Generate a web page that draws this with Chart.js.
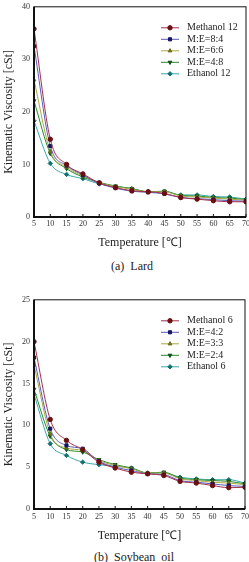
<!DOCTYPE html>
<html>
<head>
<meta charset="utf-8">
<script src="https://cdn.jsdelivr.net/npm/chart.js@4.4.0/dist/chart.umd.min.js"></script>
<style>
  html, body { margin: 0; padding: 0; background: #fff; overflow: hidden; width: 249px; height: 562px; }
  .wrap { position: absolute; left: 0; }
  .cap { position: absolute; font-family: "Liberation Serif", serif; font-size: 12px; color: #222; white-space: nowrap; }
</style>
</head>
<body>
<div class="wrap" style="top:-2px; width:252px; height:252px;"><canvas id="lardChart"></canvas></div>
<div class="cap" style="left:111px; top:259px;">(a)&nbsp; Lard</div>
<div class="wrap" style="top:291px; width:252px; height:252px;"><canvas id="soyChart"></canvas></div>
<div class="cap" style="left:94px; top:550px;">(b)&nbsp; Soybean&nbsp; oil</div>
<script>
// temperature points (deg C)
const temps = [5, 10, 15, 20, 25, 30, 35, 40, 45, 50, 55, 60, 65, 70];

// (a) Lard
const lardLabels = ['Methanol 12', 'M:E=8:4', 'M:E=6:6', 'M:E=4:8', 'Ethanol 12'];
const lardMethanol = [35.8, 14.8, 10.0, 8.2, 6.5, 5.6, 5.0, 4.8, 4.5, 3.7, 3.4, 3.1, 2.9, 2.9];
const lardME84 = [32.5, 13.5, 9.8, 8.0, 6.4, 5.5, 4.9, 4.7, 4.4, 3.7, 3.5, 3.3, 3.1, 3.0];
const lardME66 = [26.1, 12.5, 9.5, 7.8, 6.5, 5.8, 5.3, 4.8, 4.8, 4.0, 3.8, 3.6, 3.4, 3.2];
const lardME48 = [22.1, 12.1, 9.2, 7.6, 6.6, 5.9, 5.4, 4.8, 4.9, 4.1, 4.0, 3.7, 3.6, 3.3];
const lardEthanol = [18.3, 10.2, 8.1, 7.3, 6.3, 5.8, 5.4, 4.8, 4.9, 4.2, 4.2, 3.9, 3.8, 3.4];
const lardTicks = [0, 10, 20, 30, 40];

// (b) Soybean oil
const soyLabels = ['Methanol 6', 'M:E=4:2', 'M:E=3:3', 'M:E=2:4', 'Ethanol 6'];
const soyMethanol = [20.0, 10.7, 8.2, 7.1, 5.6, 4.9, 4.4, 4.2, 4.0, 3.3, 3.1, 2.8, 2.55, 2.6];
const soyME42 = [18.1, 9.6, 7.6, 7.2, 5.7, 5.0, 4.6, 4.2, 4.1, 3.4, 3.2, 3.0, 2.8, 2.7];
const soyME33 = [17.2, 9.0, 7.3, 7.0, 5.8, 5.2, 4.8, 4.3, 4.3, 3.6, 3.4, 3.2, 3.1, 2.9];
const soyME24 = [14.3, 8.7, 7.1, 6.8, 5.9, 5.3, 4.9, 4.3, 4.4, 3.7, 3.5, 3.4, 3.3, 3.0];
const soyEthanol = [13.7, 7.8, 6.4, 5.6, 5.3, 5.1, 4.9, 4.3, 4.3, 3.8, 3.6, 3.5, 3.5, 3.1];
const soyTicks = [0, 5, 10, 15, 20, 25];

// styling per series: line colour, marker colour, marker shape
const styles = [
  { line: '#a3304a', mark: '#6a0f12', shape: 'circle', rot: 0 },
  { line: '#5a5ab8', mark: '#141460', shape: 'rect', rot: 0 },
  { line: '#a8a848', mark: '#6e6e1e', shape: 'triangle', rot: 0 },
  { line: '#2a8a2a', mark: '#0e4e18', shape: 'triangle', rot: 180 },
  { line: '#3aa8a8', mark: '#157070', shape: 'rectRot', rot: 0 }
];

const SERIF = '"Liberation Serif", "Times New Roman", serif';

// frame, small inward ticks and the legend in the upper right
const framePlugin = {
  id: 'frame',
  afterDraw(chart) {
    const { ctx, chartArea: a } = chart;
    const xs = chart.scales.x;
    ctx.save();
    ctx.strokeStyle = '#111';
    ctx.lineWidth = 1;
    ctx.strokeRect(a.left, a.top, a.right - a.left, a.bottom - a.top);
    ctx.lineWidth = 2;
    ctx.beginPath();
    ctx.moveTo(a.left, a.top);
    ctx.lineTo(a.left, a.bottom);
    ctx.lineTo(a.right, a.bottom);
    ctx.stroke();
    ctx.lineWidth = 1;
    ctx.beginPath();
    xs.ticks.forEach(t => {
      const px = xs.getPixelForValue(t.value);
      ctx.moveTo(px, a.bottom);
      ctx.lineTo(px, a.bottom - 3);
    });
    ctx.stroke();
    // legend
    const lx = a.left + 127, ly = a.top + 21, gap = 11.5;
    ctx.font = '10px ' + SERIF;
    ctx.textBaseline = 'middle';
    chart.data.datasets.forEach((ds, i) => {
      const y = ly + i * gap;
      ctx.strokeStyle = ds.borderColor;
      ctx.lineWidth = 1;
      ctx.beginPath();
      ctx.moveTo(lx, y);
      ctx.lineTo(lx + 18, y);
      ctx.stroke();
      ctx.fillStyle = ds.pointBackgroundColor;
      ctx.strokeStyle = ds.pointBorderColor;
      Chart.helpers.drawPoint(ctx, {
        pointStyle: ds.pointStyle, rotation: ds.pointRotation, radius: 2.2, borderWidth: 1
      }, lx + 9, y);
      ctx.fillStyle = '#222';
      ctx.fillText(ds.label, lx + 26, y);
    });
    ctx.restore();
  }
};

function makeSets(labels, series) {
  return series.map((vals, i) => ({
    label: labels[i],
    data: temps.map((t, j) => ({ x: t, y: vals[j] })),
    borderColor: styles[i].line,
    borderWidth: 1,
    pointStyle: styles[i].shape,
    pointRotation: styles[i].rot,
    pointRadius: 2.2,
    pointBackgroundColor: styles[i].mark,
    pointBorderColor: styles[i].mark,
    cubicInterpolationMode: 'monotone'
  }));
}

function createChart(id, labels, series, yTicks, xHeight, xPad) {
  const canvas = document.getElementById(id);
  const yMax = yTicks[yTicks.length - 1];
  return new Chart(canvas.getContext('2d'), {
    type: 'line',
    data: { datasets: makeSets(labels, series) },
    options: {
      responsive: true,
      maintainAspectRatio: false,
      animation: false,
      layout: { padding: 0 },
      plugins: { legend: { display: false }, tooltip: { enabled: false } },
      scales: {
        x: {
          type: 'linear', min: 5, max: 70,
          afterFit(scale) { scale.height = xHeight; },
          grid: { display: false, drawTicks: false }, border: { display: false },
          ticks: { stepSize: 5, color: '#333', padding: xPad, font: { family: SERIF, size: 8 } },
          title: { display: true, text: 'Temperature [\u2103]', color: '#222', padding: { top: 4, bottom: 0 }, font: { family: SERIF, size: 12 } }
        },
        y: {
          min: 0, max: yMax,
          afterBuildTicks(scale) { scale.ticks = yTicks.map(v => ({ value: v })); },
          afterFit(scale) { scale.width = 34; },
          grid: { display: false, drawTicks: false }, border: { display: false },
          ticks: { color: '#333', padding: 4, font: { family: SERIF, size: 8 } },
          title: { display: true, text: 'Kinematic Viscosity [cSt]', color: '#222', padding: { top: 2, bottom: 0 }, font: { family: SERIF, size: 12 } }
        }
      }
    },
    plugins: [framePlugin]
  });
}

createChart('lardChart', lardLabels, [lardMethanol, lardME84, lardME66, lardME48, lardEthanol], lardTicks, 33, 2);
createChart('soyChart', soyLabels, [soyMethanol, soyME42, soyME33, soyME24, soyEthanol], soyTicks, 34, 3);
</script>
</body>
</html>
